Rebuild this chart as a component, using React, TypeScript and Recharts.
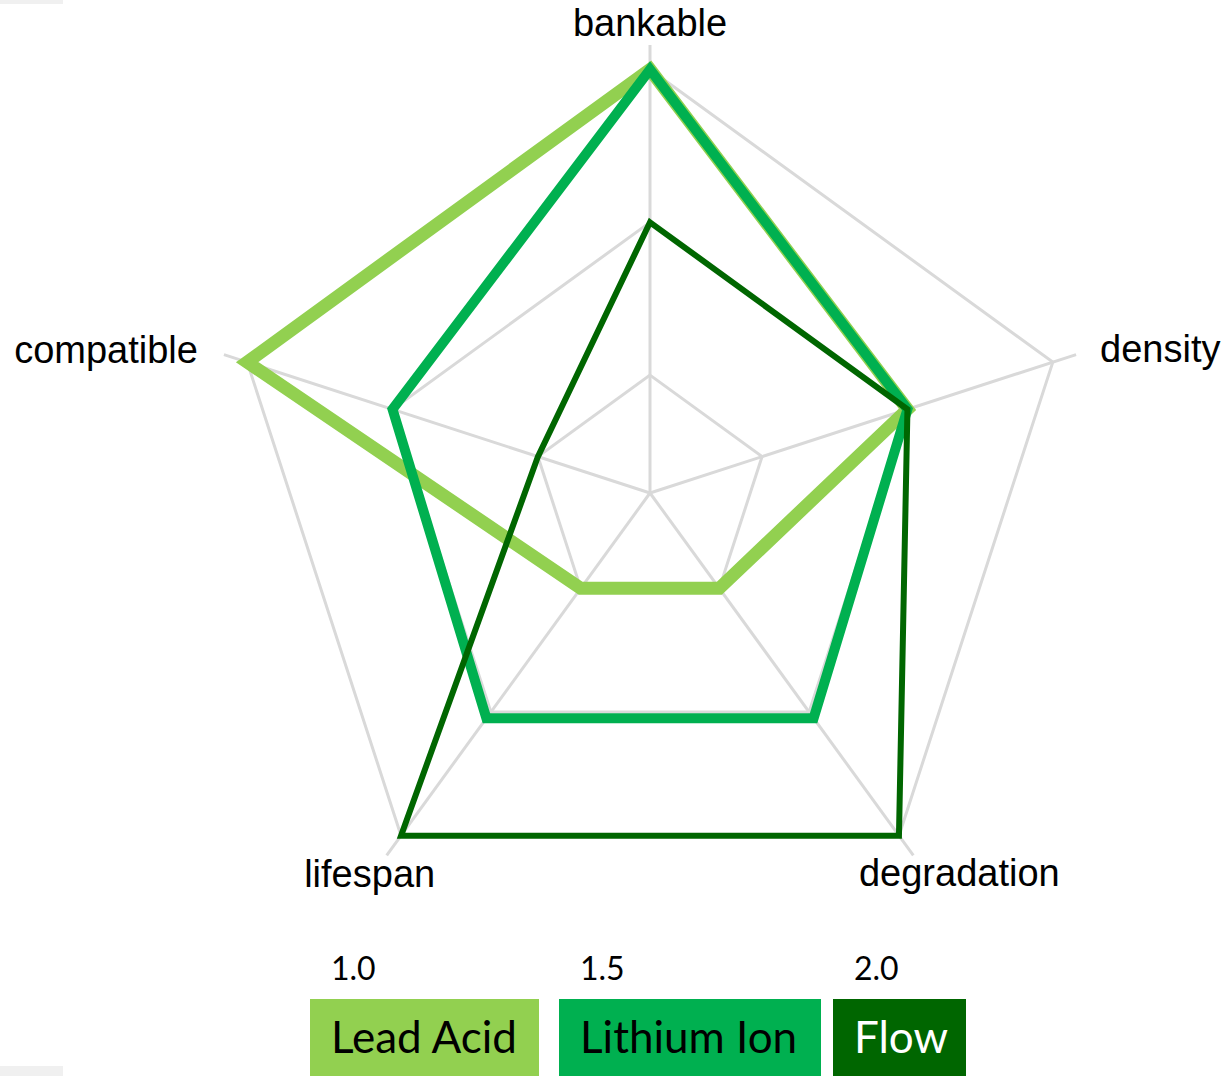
import { RadarChart, Radar, PolarGrid, PolarAngleAxis, PolarRadiusAxis } from 'recharts';

// axes, clockwise from the top
const axes = ['bankable', 'density', 'degradation', 'lifespan', 'compatible'];

// ratings per technology, same order as axes
const leadAcid = [3, 2, 1, 1, 3];
const lithiumIon = [3, 2, 2.05, 2.05, 2];
const flow = [2, 2, 3, 3, 1];

const seriesNames = ['Lead Acid', 'Lithium Ion', 'Flow'];
const legendLevels = ['1.0', '1.5', '2.0'];
const gridLevels = [1, 2, 3];

const data = axes.map((axis, i) => ({
  axis,
  leadAcid: leadAcid[i],
  lithiumIon: lithiumIon[i],
  flow: flow[i],
}));

const COLORS = ['#92d050', '#00b050', '#006600'];
const LEGEND_TEXT = ['#000000', '#000000', '#ffffff'];

const W = 1229;
const H = 1076;
const CX = 650;
const CY = 493;
const OUTER_R = 448;
// the source's rings don't start at the centre: value 0 sits "inside" it
const INNER_R = -35;
const R_MAX = 3.16;
const radiusOf = (v: number) => INNER_R + (v / R_MAX) * (OUTER_R - INNER_R);

// label placement relative to the spoke end
const LABEL_POS: Record<string, { dx: number; dy: number; anchor: 'start' | 'middle' | 'end' }> = {
  bankable: { dx: 0, dy: -9, anchor: 'middle' },
  density: { dx: 24, dy: 7, anchor: 'start' },
  degradation: { dx: 46, dy: 31, anchor: 'middle' },
  lifespan: { dx: -17, dy: 32, anchor: 'middle' },
  compatible: { dx: -26, dy: 8, anchor: 'end' },
};

function AxisLabel(props: any) {
  const { payload } = props;
  const angle = (payload.coordinate * Math.PI) / 180;
  const x = CX + OUTER_R * Math.cos(-angle);
  const y = CY + OUTER_R * Math.sin(-angle);
  const pos = LABEL_POS[payload.value] || { dx: 0, dy: 0, anchor: 'middle' };
  return (
    <text
      x={x + pos.dx}
      y={y + pos.dy}
      textAnchor={pos.anchor}
      fill="#000000"
      fontSize={38}
      fontFamily="'Liberation Sans', Arial, sans-serif"
    >
      {payload.value}
    </text>
  );
}

// legend boxes as drawn in the source
const LEGEND_BOXES = [
  { x: 310, w: 229 },
  { x: 559, w: 262 },
  { x: 833, w: 133 },
];

const layer: React.CSSProperties = { position: 'absolute', left: 0, top: 0 };

export default function App() {
  return (
    <div style={{ position: 'absolute', left: 0, top: 0, width: W, height: H, background: '#fff', overflow: 'hidden' }}>
      {/* grid layer: spokes start at the centre */}
      <div style={layer}>
        <RadarChart width={W} height={H} data={data} cx={CX} cy={CY} outerRadius={OUTER_R} margin={{ top: 0, right: 0, bottom: 0, left: 0 }}>
          <PolarGrid gridType="polygon" stroke="#d9d9d9" strokeWidth={3} polarRadius={gridLevels.map(radiusOf)} />
          <PolarAngleAxis dataKey="axis" tick={false} tickLine={false} axisLine={false} />
        </RadarChart>
      </div>

      {/* series layer */}
      <div style={layer}>
        <RadarChart
          width={W}
          height={H}
          data={data}
          cx={CX}
          cy={CY}
          innerRadius={INNER_R}
          outerRadius={OUTER_R}
          margin={{ top: 0, right: 0, bottom: 0, left: 0 }}
        >
          <PolarAngleAxis dataKey="axis" tick={<AxisLabel />} tickLine={false} axisLine={false} />
          <PolarRadiusAxis type="number" domain={[0, R_MAX]} allowDataOverflow tick={false} axisLine={false} />
          <Radar
            name={seriesNames[0]}
            dataKey="leadAcid"
            stroke={COLORS[0]}
            strokeWidth={13}
            fill="none"
            fillOpacity={0}
            dot={false}
            isAnimationActive={false}
          />
          <Radar
            name={seriesNames[1]}
            dataKey="lithiumIon"
            stroke={COLORS[1]}
            strokeWidth={10}
            fill="none"
            fillOpacity={0}
            dot={false}
            isAnimationActive={false}
          />
          <Radar
            name={seriesNames[2]}
            dataKey="flow"
            stroke={COLORS[2]}
            strokeWidth={6}
            fill="none"
            fillOpacity={0}
            dot={false}
            isAnimationActive={false}
          />
        </RadarChart>
      </div>

      <svg width={W} height={H} style={{ ...layer, pointerEvents: 'none' }}>
        <rect x={0} y={0} width={63} height={4} fill="#f0f0f0" />
        <rect x={0} y={1066} width={63} height={10} fill="#f0f0f0" />
        {seriesNames.map((name, i) => (
          <g key={name}>
            <text x={LEGEND_BOXES[i].x + 21} y={980} fontSize={32} fontFamily="Lato, 'Open Sans', sans-serif" fill="#000">
              {legendLevels[i]}
            </text>
            <rect x={LEGEND_BOXES[i].x} y={999} width={LEGEND_BOXES[i].w} height={90} fill={COLORS[i]} />
            <text x={LEGEND_BOXES[i].x + 21} y={1053} fontSize={44} fontFamily="Lato, 'Open Sans', sans-serif" fill={LEGEND_TEXT[i]}>
              {name}
            </text>
          </g>
        ))}
      </svg>
    </div>
  );
}
